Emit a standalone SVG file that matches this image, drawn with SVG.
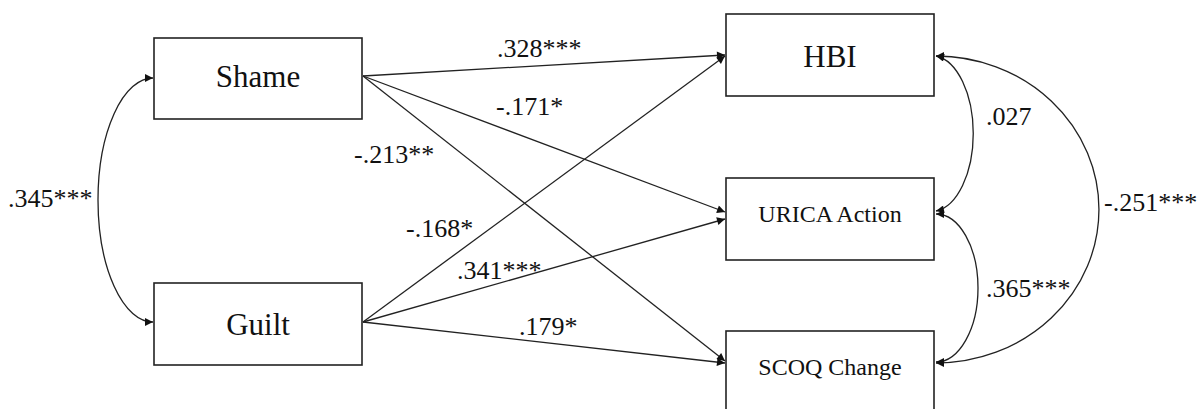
<svg xmlns="http://www.w3.org/2000/svg" width="1201" height="409" viewBox="0 0 1201 409">
<style>
.box{fill:#fff;stroke:#222;stroke-width:1.6}
.nt{font-family:"Liberation Serif","Times New Roman",serif;font-size:31px;fill:#111;text-anchor:middle}
.ns{font-family:"Liberation Serif","Times New Roman",serif;font-size:24px;fill:#111;text-anchor:middle}
.lb{font-family:"Liberation Serif","Times New Roman",serif;font-size:26px;fill:#111}
.ln{fill:none;stroke:#222;stroke-width:1.3}
</style>
<defs>
<marker id="ah" viewBox="0 0 10 10" refX="10" refY="5" markerWidth="10" markerHeight="8" markerUnits="userSpaceOnUse" orient="auto-start-reverse">
<path d="M0,0 L10,5 L0,10 Z" fill="#111"/>
</marker>
</defs>
<rect width="1201" height="409" fill="#fff"/>
<g id="connectors">
<line class="ln" x1="363" y1="76" x2="725" y2="55" marker-end="url(#ah)"/>
<line class="ln" x1="363" y1="76" x2="725" y2="212" marker-end="url(#ah)"/>
<line class="ln" x1="363" y1="76" x2="725" y2="361" marker-end="url(#ah)"/>
<line class="ln" x1="363" y1="322" x2="725" y2="56" marker-end="url(#ah)"/>
<line class="ln" x1="363" y1="322" x2="725" y2="219" marker-end="url(#ah)"/>
<line class="ln" x1="363" y1="322" x2="725" y2="363" marker-end="url(#ah)"/>
<path class="ln" d="M153,78 A55,122 0 0 0 153,322" marker-start="url(#ah)" marker-end="url(#ah)"/>
<path class="ln" d="M936,56 A42,78 0 0 1 936,211" marker-start="url(#ah)" marker-end="url(#ah)"/>
<path class="ln" d="M936,214 A42,74 0 0 1 936,362" marker-start="url(#ah)" marker-end="url(#ah)"/>
<path class="ln" d="M936,56 A163,153.5 0 0 1 936,363" marker-start="url(#ah)" marker-end="url(#ah)"/>
<text class="lb" x="497" y="57">.328***</text>
<text class="lb" x="496" y="115">-.171*</text>
<text class="lb" x="354" y="163">-.213**</text>
<text class="lb" x="406" y="237">-.168*</text>
<text class="lb" x="457" y="279">.341***</text>
<text class="lb" x="519" y="335">.179*</text>
<text class="lb" x="8" y="207">.345***</text>
<text class="lb" x="986" y="125">.027</text>
<text class="lb" x="1104" y="211">-.251***</text>
<text class="lb" x="986" y="297">.365***</text>
</g>
<g id="shame"><rect class="box" x="154" y="38" width="208" height="81"/><text class="nt" x="258" y="87">Shame</text></g>
<g id="guilt"><rect class="box" x="154" y="283" width="208" height="82"/><text class="nt" x="258" y="335">Guilt</text></g>
<g id="hbi"><rect class="box" x="726" y="14" width="208" height="82"/><text class="nt" x="830" y="67">HBI</text></g>
<g id="urica"><rect class="box" x="726" y="178" width="208" height="82"/><text class="ns" x="830" y="222">URICA Action</text></g>
<g id="scoq"><rect class="box" x="726" y="331" width="208" height="82"/><text class="ns" x="830" y="375">SCOQ Change</text></g>
</svg>
